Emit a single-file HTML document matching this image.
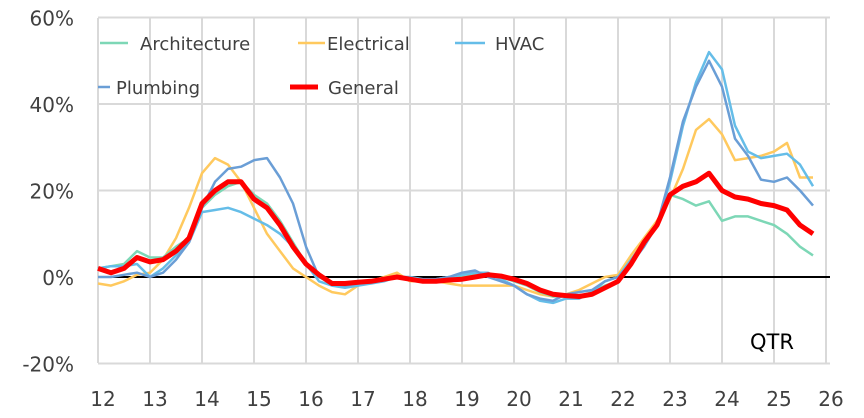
<!DOCTYPE html><html><head><style>body{margin:0;background:#fff}svg{display:block;font-family:"DejaVu Sans","Liberation Sans",sans-serif}</style></head><body>
<svg id="s" width="864" height="418" xmlns="http://www.w3.org/2000/svg"></svg>
<script>
const s=document.getElementById('s');let h='';
const X0=98,DX=52,Y=v=>277-v*4.325;
for(let k=0;k<=14;k++){const x=X0+DX*k;h+=`<line x1="${x}" y1="18" x2="${x}" y2="363" stroke="#d9d9d9" stroke-width="2"/>`;h+=`<text x="${x+5}" y="406" font-size="20" fill="#404040" text-anchor="middle">${12+k}</text>`;}
[60,40,20,-20].forEach(v=>{h+=`<line x1="${X0}" y1="${Y(v)}" x2="830" y2="${Y(v)}" stroke="#d9d9d9" stroke-width="2"/>`;});
[60,40,20,0,-20].forEach(v=>{h+=`<text x="74" y="${Y(v)+8}" font-size="20" fill="#404040" text-anchor="end">${v}%</text>`;});
h+=`<line x1="${X0}" y1="277" x2="830" y2="277" stroke="#000" stroke-width="2"/>`;
const D={
yel:["#ffc95e",[-1.5,-2,-1,0.5,1,4,9,16,24,27.5,26,22,16,10,6,2,0,-2,-3.5,-4,-2,-1,0,1,-1,-1,-1,-1.5,-2,-2,-2,-2,-2,-3,-4,-4.5,-4,-3,-1.5,0,0.5,5,9,13,18,25,34,36.5,33,27,27.5,28,29,31,23,23],2.5],
grn:["#7dd7b6",[2,2.5,3,6,4.5,4.5,7,9,16,19,21,22,19,17,13,8,3,0,-1.5,-2,-1.5,-1,-0.5,0,-0.5,-1,-1,-0.5,0,0.5,0.5,0,-1,-2,-3.5,-4.5,-4.5,-4.5,-3.5,-2,-1,3,8,12,19,18,16.5,17.5,13,14,14,13,12,10,7,5],2.5],
hv:["#65bde8",[2,2.5,2.5,3,0,2,5,8,15,15.5,16,15,13.5,12,10,7,3,-1,-2,-2.5,-2,-1.5,-1,0,0,-0.5,-0.5,0,0.5,1,1,-0.5,-2,-4,-5.5,-6,-5,-5,-3.5,-1,0,4,8,12,22,35,45,52,48,35,29,27.5,28,28.5,26,21],2.5],
pl:["#6a9ed6",[0,0,0.5,1,0,1,4,8,16,22,25,25.5,27,27.5,23,17,7,0,-1.5,-2,-1.5,-1,-0.5,0,-0.5,-0.5,-0.5,0,1,1.5,0,-1,-2,-4,-5,-5.5,-4,-3.5,-3,-1,0,3,7,12,23,36,44,50,44,32,28,22.5,22,23,20,16.5],2.5],
red:["#ff0000",[2,1,2,4.5,3.5,4,6,9,17,20,22,22,18,16,12,7,3,0.5,-1.5,-1.5,-1.2,-1,-0.5,0,-0.5,-1,-1,-0.7,-0.5,0,0.5,0.2,-0.5,-1.5,-3,-4,-4.3,-4.5,-4,-2.5,-1,3,8,12,19,21,22,24,20,18.5,18,17,16.5,15.5,12,10],5]};
for(const k in D){const [c,a,w]=D[k];h+=`<polyline fill="none" stroke="${c}" stroke-width="${w}" stroke-linejoin="round" points="${a.map((v,i)=>(X0+i*13)+','+Y(v).toFixed(1)).join(' ')}"/>`;}
const L=[["#7dd7b6",100,128,43,140,"Architecture",2.5],["#ffc95e",298,325,43,327,"Electrical",2.5],["#65bde8",455,485,43,495,"HVAC",2.5],["#6a9ed6",98,110,87,116,"Plumbing",2.5],["#ff0000",290,318,87,328,"General",5]];
L.forEach(([c,a,b,y,t,n,w])=>{h+=`<line x1="${a}" y1="${y}" x2="${b}" y2="${y}" stroke="${c}" stroke-width="${w}"/><text x="${t}" y="${y+7}" font-size="18" fill="#404040">${n}</text>`;});
h+=`<text x="750" y="349" font-size="21" fill="#000">QTR</text>`;
s.innerHTML=h;
</script></body></html>
